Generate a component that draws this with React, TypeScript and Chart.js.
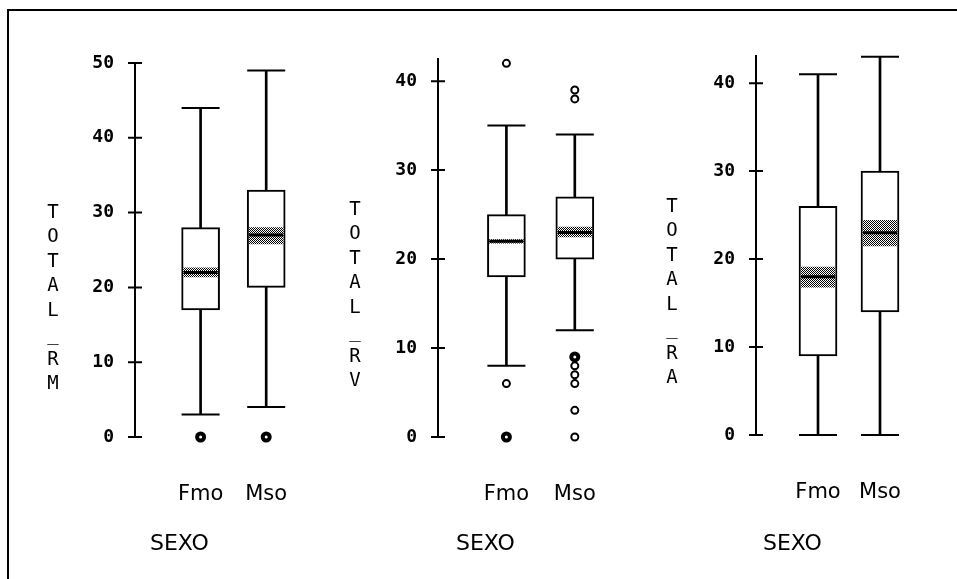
import React, { useEffect, useRef } from "react";
import { Chart, registerables } from "chart.js";

Chart.register(...registerables);

// ---------- data ----------
const categories = ["Fmo", "Mso"];
const groupTitle = "SEXO";

// Panel 1: TOTAL_RM
const rmTitle = "TOTAL_RM";
const rmTicks = [0, 10, 20, 30, 40, 50];
const rmWhiskerLow = [3, 4];
const rmQ1 = [17, 20];
const rmMedian = [22, 27];
const rmQ3 = [28, 33];
const rmWhiskerHigh = [44, 49];
const rmNotchLow = [21.4, 25.8];
const rmNotchHigh = [22.6, 28];
const rmOutliers: number[][] = [[], []];
const rmRepeatedOutliers: number[][] = [[0], [0]];

// Panel 2: TOTAL_RV
const rvTitle = "TOTAL_RV";
const rvTicks = [0, 10, 20, 30, 40];
const rvWhiskerLow = [8, 12];
const rvQ1 = [18, 20];
const rvMedian = [22, 23];
const rvQ3 = [25, 27];
const rvWhiskerHigh = [35, 34];
const rvNotchLow = [21.8, 22.5];
const rvNotchHigh = [22.2, 23.6];
const rvOutliers: number[][] = [[6, 42], [0, 3, 6, 7, 8, 38, 39]];
const rvRepeatedOutliers: number[][] = [[0], [9]];

// Panel 3: TOTAL_RA
const raTitle = "TOTAL_RA";
const raTicks = [0, 10, 20, 30, 40];
const raWhiskerLow = [0, 0];
const raQ1 = [9, 14];
const raMedian = [18, 23];
const raQ3 = [26, 30];
const raWhiskerHigh = [41, 43];
const raNotchLow = [16.8, 21.5];
const raNotchHigh = [19.1, 24.4];
const raOutliers: number[][] = [[], []];
const raRepeatedOutliers: number[][] = [[], []];

// ---------- layout (page pixels) ----------
const PAGE_H = 579;
const Y_AXIS_W = 60;
const X_AXIS_H = 95;

const panels = [
  {
    title: rmTitle, ticks: rmTicks, yMax: 50,
    lo: rmWhiskerLow, q1: rmQ1, med: rmMedian, q3: rmQ3, hi: rmWhiskerHigh,
    nLo: rmNotchLow, nHi: rmNotchHigh, out: rmOutliers, rep: rmRepeatedOutliers,
    canvasLeft: 10, canvasWidth: 310, areaLeft: 135, areaRight: 302, areaTop: 63, areaBottom: 437,
    titleDx: -82, titleTop: 213, groupDx: 15,
  },
  {
    title: rvTitle, ticks: rvTicks, yMax: 42.6,
    lo: rvWhiskerLow, q1: rvQ1, med: rvMedian, q3: rvQ3, hi: rvWhiskerHigh,
    nLo: rvNotchLow, nHi: rvNotchHigh, out: rvOutliers, rep: rvRepeatedOutliers,
    canvasLeft: 320, canvasWidth: 310, areaLeft: 438, areaRight: 615, areaTop: 58, areaBottom: 437,
    titleDx: -83, titleTop: 210, groupDx: 18,
  },
  {
    title: raTitle, ticks: raTicks, yMax: 43.2,
    lo: raWhiskerLow, q1: raQ1, med: raMedian, q3: raQ3, hi: raWhiskerHigh,
    nLo: raNotchLow, nHi: raNotchHigh, out: raOutliers, rep: raRepeatedOutliers,
    canvasLeft: 630, canvasWidth: 327, areaLeft: 756, areaRight: 911, areaTop: 55, areaBottom: 435,
    titleDx: -84, titleTop: 207, groupDx: 7,
  },
];

function makePattern() {
  const c = document.createElement("canvas");
  c.width = 2;
  c.height = 2;
  const g = c.getContext("2d")!;
  g.fillStyle = "#fff";
  g.fillRect(0, 0, 2, 2);
  g.fillStyle = "#000";
  g.fillRect(0, 0, 1, 1);
  g.fillRect(1, 1, 1, 1);
  return g.createPattern(c, "repeat");
}

const boxAxisPlugin = {
  id: "boxAxis",
  afterDraw(chart: any, _args: any, opts: any) {
    const { ctx, chartArea, scales } = chart;
    const y = scales.y;
    const x = chartArea.left;
    ctx.save();
    ctx.strokeStyle = "#000";
    ctx.lineWidth = 2;
    ctx.beginPath();
    ctx.moveTo(x, y.getPixelForValue(y.min));
    ctx.lineTo(x, chartArea.top);
    y.ticks.forEach((t: any) => {
      const py = y.getPixelForValue(t.value);
      ctx.moveTo(x - 7, py);
      ctx.lineTo(x + 7, py);
    });
    ctx.stroke();

    ctx.fillStyle = "#000";
    ctx.font = "19px 'DejaVu Sans Mono'";
    ctx.textAlign = "center";
    ctx.textBaseline = "middle";
    const chars = Array.from(String(opts.title));
    chars.forEach((ch, i) => {
      ctx.fillText(ch, x + opts.titleDx, opts.titleTop + i * 24.5);
    });

    ctx.font = "22px 'DejaVu Sans'";
    ctx.textAlign = "left";
    ctx.fillText(opts.group, x + opts.groupDx, opts.groupY);
    ctx.restore();
  },
};

function buildConfig(p: any, pattern: any) {
  const idx = categories.map((_, i) => i);
  return {
    type: "bar",
    data: {
      datasets: [
        {
          type: "bar", order: 6, clip: false, grouped: false,
          data: idx.map((i) => ({ x: i, y: [p.lo[i], p.hi[i]] })),
          backgroundColor: "#000", borderWidth: 0, barThickness: 2,
        },
        {
          type: "bar", order: 5, clip: false, grouped: false,
          data: idx.map((i) => ({ x: i, y: [p.q1[i], p.q3[i]] })),
          backgroundColor: "#fff", borderColor: "#000", borderWidth: 2,
          borderSkipped: false, barThickness: 38,
        },
        {
          type: "bar", order: 4, clip: false, grouped: false,
          data: idx.map((i) => ({ x: i, y: [p.nLo[i], p.nHi[i]] })),
          backgroundColor: pattern, borderWidth: 0, barThickness: 34,
        },
        {
          type: "scatter", order: 3, clip: false,
          data: idx.map((i) => ({ x: i, y: p.med[i] })),
          pointStyle: "line", pointRadius: 17, pointHoverRadius: 17,
          borderColor: "#000", borderWidth: 3,
        },
        {
          type: "scatter", order: 2, clip: false,
          data: idx.flatMap((i) => [{ x: i, y: p.lo[i] }, { x: i, y: p.hi[i] }]),
          pointStyle: "line", pointRadius: 19, pointHoverRadius: 19,
          borderColor: "#000", borderWidth: 2,
        },
        {
          type: "scatter", order: 1, clip: false,
          data: idx.flatMap((i) => p.out[i].map((v: number) => ({ x: i, y: v }))),
          pointStyle: "circle", pointRadius: 3.5, pointHoverRadius: 3.5,
          borderColor: "#000", backgroundColor: "#fff", borderWidth: 2,
        },
        {
          type: "scatter", order: 0, clip: false,
          data: idx.flatMap((i) => p.rep[i].map((v: number) => ({ x: i, y: v }))),
          pointStyle: "circle", pointRadius: 3.5, pointHoverRadius: 3.5,
          borderColor: "#000", backgroundColor: "#fff", borderWidth: 4,
        },
      ],
    },
    options: {
      responsive: false,
      maintainAspectRatio: false,
      animation: false,
      events: [],
      layout: {
        padding: {
          left: p.areaLeft - p.canvasLeft - Y_AXIS_W,
          right: p.canvasLeft + p.canvasWidth - p.areaRight,
          top: p.areaTop,
          bottom: PAGE_H - p.areaBottom - X_AXIS_H,
        },
      },
      plugins: {
        legend: { display: false },
        tooltip: { enabled: false },
        boxAxis: {
          title: p.title, titleDx: p.titleDx, titleTop: p.titleTop,
          group: groupTitle, groupDx: p.groupDx, groupY: 544,
        },
      },
      scales: {
        x: {
          type: "linear", min: -1, max: 1.5, offset: false,
          grid: { display: false, drawTicks: false }, border: { display: false },
          afterBuildTicks: (s: any) => { s.ticks = idx.map((v) => ({ value: v })); },
          afterFit: (s: any) => {
            s.height = X_AXIS_H;
            s.paddingLeft = 0;
            s.paddingRight = 0;
          },
          ticks: {
            autoSkip: false, maxRotation: 0, minRotation: 0, padding: 45, color: "#000",
            font: { family: "DejaVu Sans", size: 21 },
            callback: (v: any) => categories[v] ?? "",
          },
        },
        y: {
          type: "linear", min: 0, max: p.yMax,
          grid: { display: false, drawTicks: false }, border: { display: false },
          afterBuildTicks: (s: any) => { s.ticks = p.ticks.map((v: number) => ({ value: v })); },
          afterFit: (s: any) => {
            s.width = Y_AXIS_W;
            s.paddingTop = 0;
            s.paddingBottom = 0;
          },
          ticks: {
            padding: 21, color: "#000",
            font: { family: "DejaVu Sans Mono", size: 18, weight: "bold" },
          },
        },
      },
    },
    plugins: [boxAxisPlugin],
  };
}

export default function App() {
  const r0 = useRef<HTMLCanvasElement>(null);
  const r1 = useRef<HTMLCanvasElement>(null);
  const r2 = useRef<HTMLCanvasElement>(null);
  const refs = [r0, r1, r2];

  useEffect(() => {
    const pattern = makePattern();
    const charts = panels.map(
      (p, i) => new Chart(refs[i].current as HTMLCanvasElement, buildConfig(p, pattern) as any)
    );
    return () => charts.forEach((c) => c.destroy());
  }, []);

  return (
    <div style={{ position: "fixed", left: 0, top: 0, width: 957, height: PAGE_H, background: "#fff", overflow: "hidden" }}>
      <div
        style={{
          position: "absolute", left: 7, top: 9, right: -10, bottom: -10,
          borderTop: "2px solid #000", borderLeft: "2px solid #000",
        }}
      />
      {panels.map((p, i) => (
        <canvas
          key={i}
          ref={refs[i]}
          width={p.canvasWidth}
          height={PAGE_H}
          style={{ position: "absolute", left: p.canvasLeft, top: 0, width: p.canvasWidth, height: PAGE_H }}
        />
      ))}
    </div>
  );
}
